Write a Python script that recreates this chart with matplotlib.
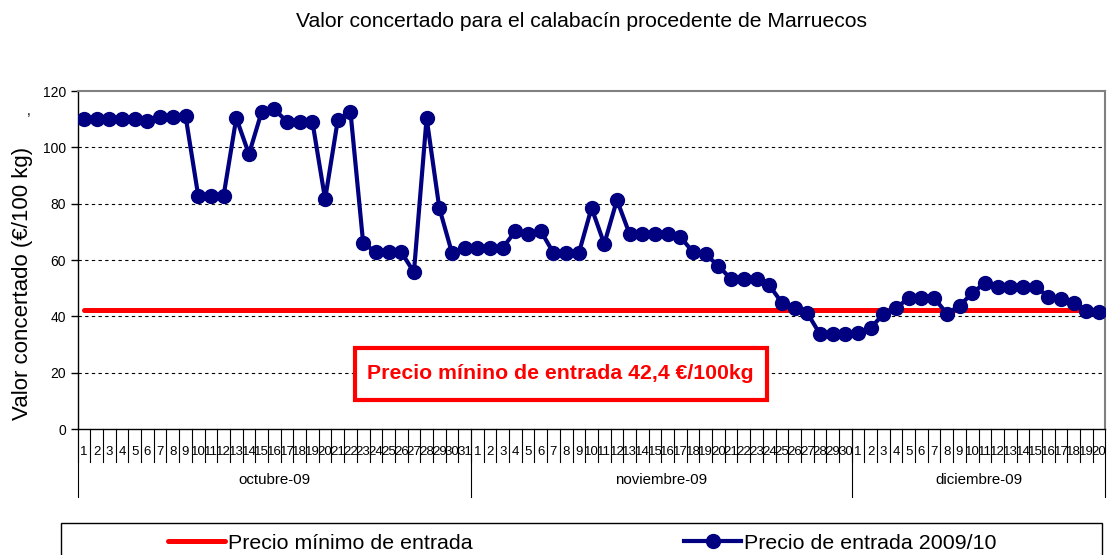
import matplotlib
matplotlib.use("Agg")
import matplotlib.pyplot as plt
import matplotlib.patches as mpatches
import matplotlib.transforms as mtransforms

plt.rcParams['font.family'] = ['Liberation Sans', 'DejaVu Sans']

# days per month shown on the axis
months = ['octubre-09', 'noviembre-09', 'diciembre-09']
month_days = [31, 30, 20]

precio_oct = [110, 110, 110, 110, 110, 109.3, 110.6, 110.6, 111.2, 82.8,
              82.8, 82.8, 110.4, 97.6, 112.6, 113.5, 109.1, 109.1, 109.1, 81.6,
              109.7, 112.6, 66, 62.8, 62.8, 62.8, 55.7, 110.4, 78.5, 62.5, 64.3]
precio_nov = [64.3, 64.3, 64.3, 70.3, 69.2, 70.3, 62.5, 62.5, 62.5, 78.5,
              65.7, 81.3, 69.2, 69.2, 69.2, 69.2, 68.2, 62.8, 62, 57.9,
              53.2, 53.2, 53.2, 51.1, 44.8, 42.9, 41.2, 33.7, 33.7, 33.7]
precio_dic = [34.1, 35.9, 40.8, 43, 46.5, 46.5, 46.5, 41, 43.7, 48.3,
              51.8, 50.5, 50.5, 50.5, 50.5, 47, 46, 44.7, 42, 41.5]
precio_minimo = 42.4

precio = precio_oct + precio_nov + precio_dic
day_labels = [str(d) for n in month_days for d in range(1, n + 1)]
x = list(range(len(precio)))

fig = plt.figure(figsize=(11.08, 5.55), dpi=100)
ax = fig.add_axes([0.0701, 0.227, 0.9276, 0.609])

l_min, = ax.plot(x, [precio_minimo] * len(x), color='#ff0000', lw=3.6,
                 solid_capstyle='round', label='Precio mínimo de entrada', zorder=3)
l_pre, = ax.plot(x, precio, color='#000080', lw=3, marker='o', markersize=10,
                 label='Precio de entrada 2009/10', zorder=4)

ax.set_xlim(-0.5, len(x) - 0.5)
ax.set_ylim(0, 120)
ax.set_yticks(range(0, 121, 20))
ax.tick_params(axis='y', labelsize=10, length=5, direction='out', width=1)
ax.set_xticks([])
for v in range(20, 101, 20):
    ax.axhline(v, color='black', lw=0.8, ls=(0, (3, 3)), zorder=1)

for s in ['top', 'right']:
    ax.spines[s].set_color('#808080')
    ax.spines[s].set_linewidth(1.5)
for s in ['left', 'bottom']:
    ax.spines[s].set_color('black')
    ax.spines[s].set_linewidth(1)

ax.set_ylabel('Valor concertado (€/100 kg)', fontsize=16)
ax.yaxis.set_label_coords(-0.043, 0.432)
fig.text(0.026, 0.8, ',', fontsize=10, ha='center', va='center')
fig.suptitle('Valor concertado para el calabacín procedente de Marruecos',
             fontsize=15.2, x=0.525, y=0.978, va='top')

# two level category axis: days and months
trans = mtransforms.blended_transform_factory(ax.transData, ax.transAxes)
for i, lab in enumerate(day_labels):
    ax.text(i, -0.068, lab, transform=trans, ha='center', va='center',
            fontsize=9.5, clip_on=False)
    ax.plot([i - 0.5, i - 0.5], [0, -0.098], transform=trans, color='black',
            lw=0.8, clip_on=False)
start = 0
for name, n in zip(months, month_days):
    ax.text(start + n / 2 - 0.5, -0.15, name, transform=trans, ha='center',
            va='center', fontsize=10.8, clip_on=False)
    ax.plot([start - 0.5, start - 0.5], [0, -0.2], transform=trans,
            color='black', lw=0.8, clip_on=False)
    start += n
ax.plot([start - 0.5, start - 0.5], [0, -0.2], transform=trans,
        color='black', lw=0.8, clip_on=False)

# annotation box
ax.add_patch(mpatches.Rectangle((0.27, 0.086), 0.401, 0.154, transform=ax.transAxes,
                                fc='white', ec='#ff0000', lw=3, zorder=5))
ax.text(0.47, 0.163, 'Precio mínino de entrada 42,4 €/100kg', transform=ax.transAxes,
        ha='center', va='center', fontsize=15.3, fontweight='bold', color='#ff0000',
        zorder=6)

# legend in a wide box that runs off the figure
fig.patches.append(mpatches.Rectangle((0.055, -0.05), 0.94, 0.107,
                                      transform=fig.transFigure, fill=False,
                                      ec='black', lw=1))
fig.legend([l_min, l_pre], ['Precio mínimo de entrada', 'Precio de entrada 2009/10'],
           ncol=2, frameon=False, fontsize=15.4, handlelength=2.66,
           handletextpad=0.15, columnspacing=9.9,
           loc='center left', bbox_to_anchor=(0.134, 0.021))

fig.savefig('out.png', dpi=100)
